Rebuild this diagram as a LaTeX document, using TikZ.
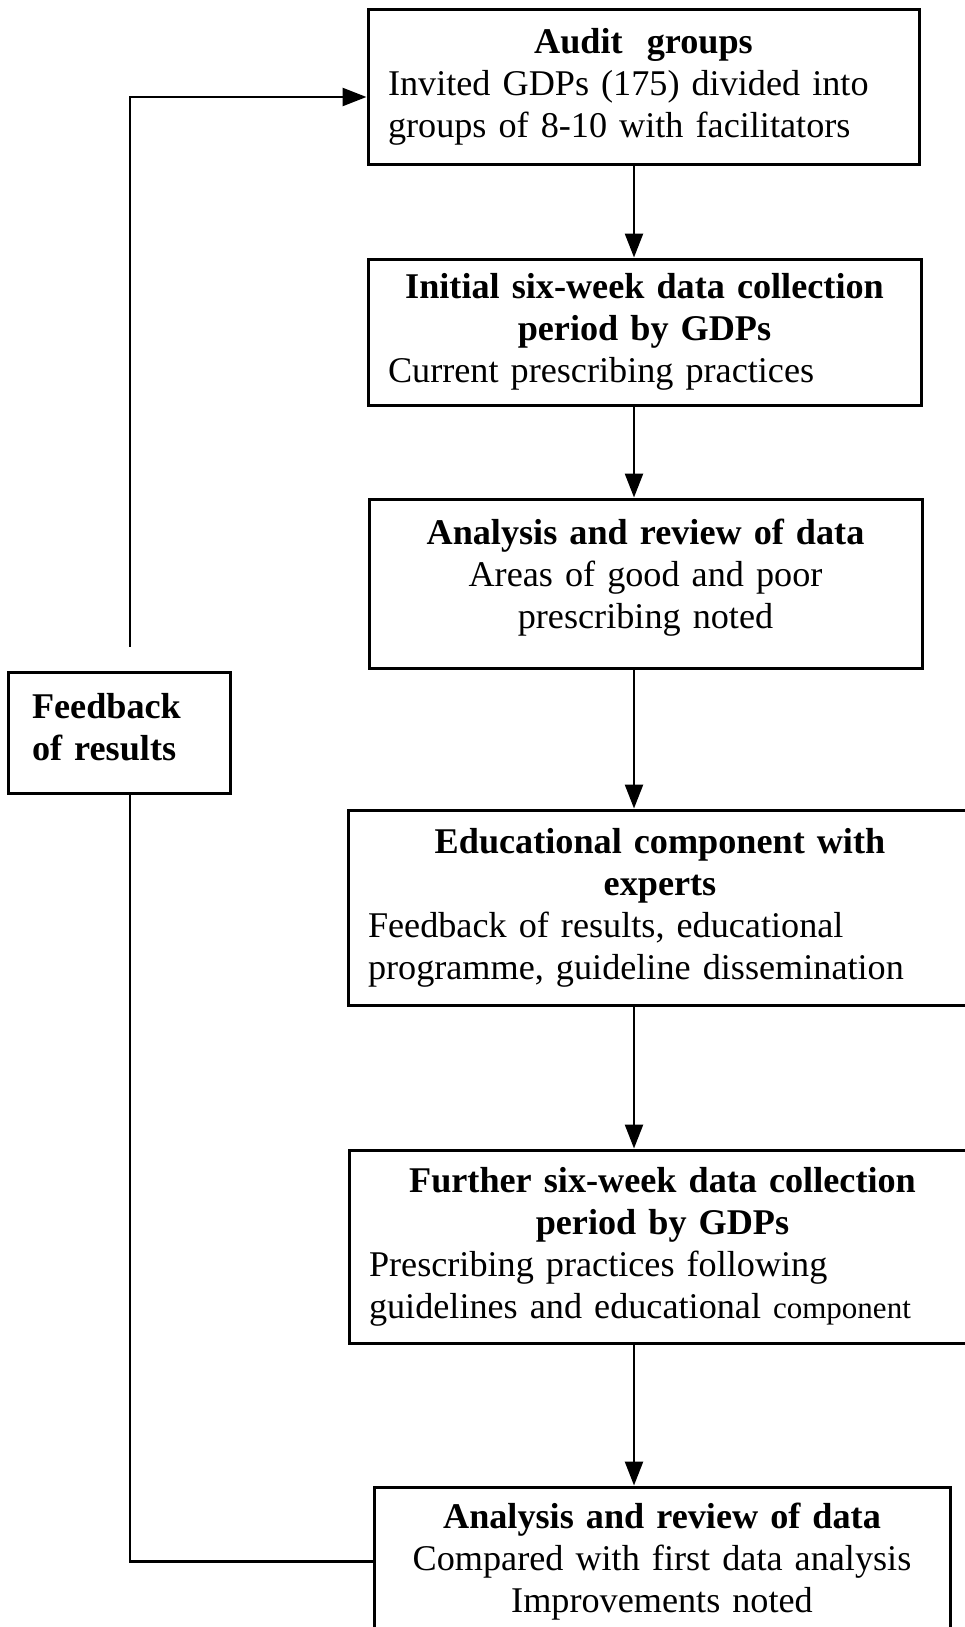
\documentclass[tikz,border=0pt]{standalone}
\usepackage{fontspec}
\setmainfont{Liberation Serif}
\usetikzlibrary{arrows.meta,calc}
\newcommand\leftln[1]{\makebox[\linewidth][l]{#1}}
\tikzset{
  box/.style={draw, line width=3pt, inner xsep=20pt, inner ysep=0pt, align=center,
    font=\fontsize{36.2}{42}\selectfont},
  conn/.style={line width=2.5pt},
  arr/.style={conn, -{Triangle[length=24pt,width=18pt]}},
}
\begin{document}
\begin{tikzpicture}[x=1pt,y=-1pt]
\useasboundingbox (0,0) rectangle (965,1627);
\coordinate (sp) at (634,0);
\coordinate (loopx) at (130,0);
\coordinate (loopy) at (0,97);

\node[box, minimum width=551pt, minimum height=154pt, text width=511pt] (b1) at (643.5,87)
 {\textbf{Audit\ \ groups}\\
  \leftln{Invited GDPs (175) divided into}\\
  \leftln{groups of 8-10 with facilitators}};

\node[box, minimum width=553pt, minimum height=146pt, text width=513pt] (b2) at (644.5,332)
 {\textbf{Initial six-week data collection}\\
  \textbf{period by GDPs}\\
  \leftln{Current prescribing practices}};

\node[box, minimum width=553pt, minimum height=169pt, text width=513pt, text depth=104pt] (b3) at (645.5,583.5)
 {\textbf{Analysis and review of data}\\
  Areas of good and poor\\
  prescribing noted};

\node[box, inner xsep=24pt, align=left, minimum width=222pt, minimum height=121pt, text width=174pt, text depth=53pt] (fb) at (119,732.5)
 {\textbf{Feedback}\\ \textbf{of results}};

\node[box, minimum width=624pt, minimum height=195pt, text width=584pt] (b4) at (660,907.5)
 {\textbf{Educational component with}\\
  \textbf{experts}\\
  \leftln{Feedback of results, educational}\\
  \leftln{programme, guideline dissemination}};

\node[box, minimum width=627pt, minimum height=193pt, text width=587pt] (b5) at (662.5,1246.5)
 {\textbf{Further six-week data collection}\\
  \textbf{period by GDPs}\\
  \leftln{Prescribing practices following}\\
  \leftln{guidelines and educational {\fontsize{31}{42}\selectfont component}}};

\node[box, minimum width=576pt, minimum height=149pt, text width=536pt] (b6) at (662,1561.5)
 {\textbf{Analysis and review of data}\\
  Compared with first data analysis\\
  Improvements noted};

\draw[arr] (b1.south -| sp) -- (b2.north -| sp);
\draw[arr] (b2.south -| sp) -- (b3.north -| sp);
\draw[arr] (b3.south -| sp) -- (b4.north -| sp);
\draw[arr] (b4.south -| sp) -- (b5.north -| sp);
\draw[arr] (b5.south -| sp) -- (b6.north -| sp);

\draw[conn] (b6.west) -| (fb.south -| loopx);
\draw[arr, shorten <=24pt] (fb.north -| loopx) |- (b1.west |- loopy);
\end{tikzpicture}
\end{document}
